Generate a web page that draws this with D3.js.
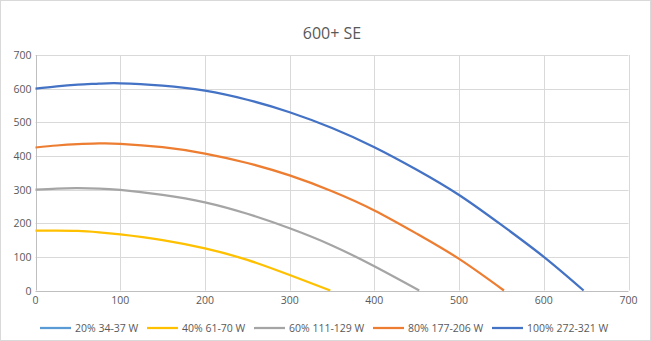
<!DOCTYPE html>
<html><head><meta charset="utf-8">
<script src="https://cdn.jsdelivr.net/npm/d3@7"></script>
<style>body{margin:0;background:#fff}svg{display:block}text{font-family:"Open Sans","Liberation Sans",sans-serif}</style>
</head><body>
<svg id="c" width="651" height="341"></svg>
<script>
const title = "600+ SE";
const seriesNames = ["20% 34-37 W","40% 61-70 W","60% 111-129 W","80% 177-206 W","100% 272-321 W"];
const seriesColors = ["#5B9BD5","#FFC000","#A5A5A5","#ED7D31","#4472C4"];
const xTicks = [0,100,200,300,400,500,600,700];
const yTicks = [0,100,200,300,400,500,600,700];
const s20x = [];
const s20y = [];
const s40x = [0,25,50,75,100,150,200,250,300,348];
const s40y = [178,178,177,173,167,150,125,91,46,0];
const s60x = [0,25,50,75,100,150,200,250,300,350,400,453];
const s60y = [300,303,304,303,299,284,262,228,185,134,72,0];
const s80x = [0,25,50,75,100,150,200,250,300,350,400,450,500,553];
const s80y = [425,431,435,437,436,426,407,379,342,295,238,169,94,0];
const s100x = [0,25,50,75,100,150,200,250,300,350,400,450,500,550,600,647];
const s100y = [600,607,612,615,616,609,594,567,530,483,426,359,284,195,100,0];

const series = [[s20x,s20y],[s40x,s40y],[s60x,s60y],[s80x,s80y],[s100x,s100y]];
const svg = d3.select("#c");
const W = 651, H = 341;
svg.append("rect").attr("x",0.5).attr("y",0.5).attr("width",W-1).attr("height",H-1)
  .attr("fill","#fff").attr("stroke","#d9d9d9");

const L = 35.5, R = 628.5, T = 55, B = 290.5;
const x = d3.scaleLinear().domain([0,700]).range([L,R]);
const y = d3.scaleLinear().domain([0,700]).range([B,T]);

svg.append("text").attr("x",(L+R)/2).attr("y",39).attr("text-anchor","middle")
  .attr("font-size",16).attr("fill","#595959").text(title);

const g = svg.append("g");
g.selectAll(".gy").data(yTicks.filter(d=>d>0)).join("line")
  .attr("x1",L).attr("x2",R).attr("y1",d=>Math.round(y(d))+0.5).attr("y2",d=>Math.round(y(d))+0.5)
  .attr("stroke","#d9d9d9");
g.selectAll(".gx").data(xTicks.filter(d=>d>0)).join("line")
  .attr("y1",T).attr("y2",B).attr("x1",d=>Math.round(x(d))+0.5).attr("x2",d=>Math.round(x(d))+0.5)
  .attr("stroke","#d9d9d9");
g.append("line").attr("x1",L).attr("x2",R).attr("y1",Math.round(B)+0.5).attr("y2",Math.round(B)+0.5).attr("stroke","#bfbfbf");
g.append("line").attr("x1",Math.round(L)+0.5).attr("x2",Math.round(L)+0.5).attr("y1",T).attr("y2",B).attr("stroke","#bfbfbf");

g.selectAll(".ty").data(yTicks).join("text")
  .attr("x",L-4).attr("y",d=>y(d)+4).attr("text-anchor","end")
  .attr("font-size",10.5).attr("fill","#595959").text(d=>d);
g.selectAll(".tx").data(xTicks).join("text")
  .attr("x",d=>x(d)).attr("y",B+13).attr("text-anchor","middle")
  .attr("font-size",10.5).attr("fill","#595959").text(d=>d);

const line = d3.line().x(d=>x(d[0])).y(d=>y(d[1])).curve(d3.curveNatural);
series.forEach((s,i)=>{
  const pts = s[0].map((v,j)=>[v,s[1][j]]);
  if(!pts.length) return;
  svg.append("path").attr("d",line(pts)).attr("fill","none")
    .attr("stroke",seriesColors[i]).attr("stroke-width",2.25).attr("stroke-linejoin","round");
});

const legX = [40,147,254,373,492];
const lg = svg.append("g");
seriesNames.forEach((n,i)=>{
  lg.append("line").attr("x1",legX[i]).attr("x2",legX[i]+31).attr("y1",328).attr("y2",328)
    .attr("stroke",seriesColors[i]).attr("stroke-width",2.25);
  lg.append("text").attr("x",legX[i]+35).attr("y",332).attr("font-size",10.5)
    .attr("fill","#595959").text(n);
});
</script>
</body></html>
